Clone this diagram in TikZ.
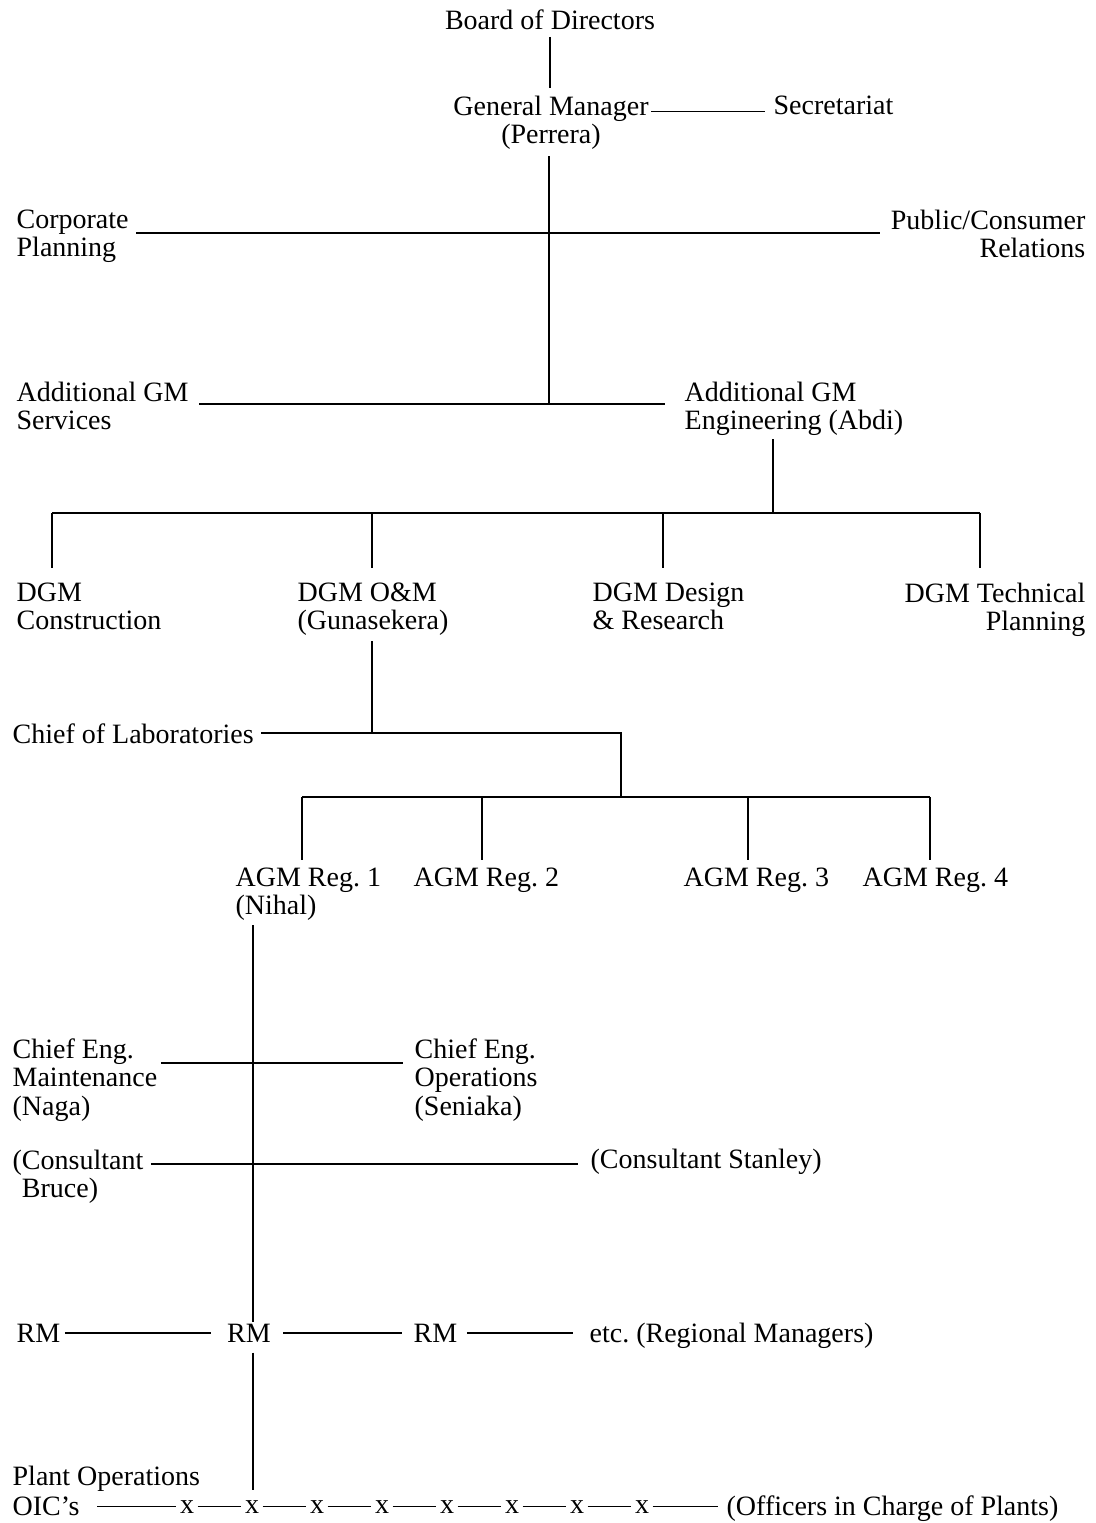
\documentclass[tikz,border=0pt]{standalone}
\usepackage{fontspec}
\setmainfont{Liberation Serif}
\usetikzlibrary{calc}
\newcommand{\orgfont}{\fontsize{28}{28.5}\selectfont\frenchspacing}

\begin{document}
\begin{tikzpicture}[x=1pt, y=-1pt, line width=1.3pt,
  lbl/.style={inner sep=0pt, font=\orgfont},
  lblL/.style={lbl, align=left, anchor=north west},
  lblR/.style={lbl, align=right, anchor=north east},
  xmark/.style={lbl, inner xsep=3pt, anchor=base}]

\useasboundingbox (0,0) rectangle (1095,1523);

% ----------------------------
% PARAMETERS
% ----------------------------
\def\xGM{549}     % spine under General Manager
\def\xEng{773}    % spine under Additional GM Engineering
\def\xRM{253}     % spine under AGM Reg. 1

% ----------------------------
% TOP LEVEL
% ----------------------------
\node[lbl, anchor=base] (bod) at (550,29) {Board of Directors};
\node[lbl, align=center, anchor=north] (gm) at (551,95) {General Manager\\(Perrera)};
\node[lbl, anchor=base west] (sec) at (773,114) {Secretariat};

\node[lblL] (cp) at (16,209) {Corporate\\Planning};
\node[lblR] (pcr) at (1086,209) {Public/Consumer\\Relations};

\node[lblL] (ags) at (16,381) {Additional GM\\Services};
\node[lblL] (age) at (684,381) {Additional GM\\Engineering (Abdi)};

\coordinate (jCP) at (\xGM,233);   % planning line crossing
\coordinate (jAG) at (\xGM,404);   % foot of GM spine

\draw[shorten <=7pt, shorten >=7pt] (bod.south) -- (bod.south |- gm.north);
\draw ([xshift=2pt]gm.north east |- sec.mid west) -- ([xshift=-8pt]sec.mid west);
\draw[shorten <=6pt] (gm.south -| jAG) -- (jAG);
\draw ([xshift=7pt]cp.north east |- jCP) -- ([xshift=-10pt]pcr.north west |- jCP);
\draw ([xshift=10pt]ags.north east |- jAG) -- ([xshift=-19pt]age.north west |- jAG);

% ----------------------------
% DEPUTY GENERAL MANAGERS
% ----------------------------
\node[lblL] (dgmc) at (16,582) {DGM\\Construction};
\node[lblL] (dgmo) at (297,582) {DGM O\&M\\(Gunasekera)};
\node[lblL] (dgmd) at (592,582) {DGM Design\\\& Research};
\node[lblR] (dgmt) at (1086,582) {DGM Technical\\Planning};

\coordinate (jEng) at (\xEng,513);
\coordinate (dC) at (52,513);
\coordinate (dO) at (372,513);
\coordinate (dD) at (663,513);
\coordinate (dT) at (980,513);

\draw[shorten <=3pt] (age.south -| jEng) -- (jEng);
\draw (dC) -- (dT);
\foreach \d in {dC,dO,dD,dT}
  \draw[shorten >=14pt] (\d) -- (\d |- dgmc.north);

% ----------------------------
% LABORATORIES AND REGIONS
% ----------------------------
\node[lbl, anchor=base west] (col) at (12,743) {Chief of Laboratories};

\coordinate (jCol) at (372,733);
\coordinate (jReg) at (621,733);
\coordinate (jRegBar) at (621,797);
\coordinate (r1) at (302,797);
\coordinate (r2) at (482,797);
\coordinate (r3) at (748,797);
\coordinate (r4) at (930,797);

\node[lblL] (agm1) at (235,867) {AGM Reg. 1\\(Nihal)};
\node[lbl, anchor=base west] (agm2) at (413,886) {AGM Reg. 2};
\node[lbl, anchor=base west] (agm3) at (683,886) {AGM Reg. 3};
\node[lbl, anchor=base west] (agm4) at (862,886) {AGM Reg. 4};

\draw[shorten <=5pt] (dgmo.south -| jCol) -- (jCol);
\draw ([xshift=7pt]col.east |- jCol) -- (jReg) -- (jRegBar);
\draw (r1) -- (r4);
\foreach \r in {r1,r2,r3,r4}
  \draw[shorten >=7pt] (\r) -- (\r |- agm2.north);

% ----------------------------
% REGION 1
% ----------------------------
\node[lblL] (cem) at (12,1038) {Chief Eng.\\Maintenance\\(Naga)};
\node[lblL] (ceo) at (414,1038) {Chief Eng.\\Operations\\(Seniaka)};
\node[lblL] (cb) at (12,1149) {(Consultant\\\hphantom{(}Bruce)};
\node[lbl, anchor=base west] (cs) at (590,1168) {(Consultant Stanley)};

\coordinate (jCE) at (\xRM,1063);
\coordinate (jCB) at (\xRM,1164);

\draw ([xshift=3pt]cem.north east |- jCE) -- ([xshift=-11pt]ceo.north west |- jCE);
\draw ([xshift=7pt]cb.north east |- jCB) -- ([xshift=-12pt]cs.west |- jCB);

% regional managers
\node[lbl, anchor=base west] (rm1) at (16,1342) {RM};
\node[lbl, anchor=base] (rm2) at (249,1342) {RM};
\node[lbl, anchor=base west] (rm3) at (413,1342) {RM};
\node[lbl, anchor=base west] (etc) at (589,1342) {etc. (Regional Managers)};

\draw[shorten <=4pt, shorten >=1pt] (agm1.south -| jCE) -- (rm2.north -| jCE);
\draw ([xshift=4pt]rm1.east) -- ([xshift=-16pt]rm2.west);
\draw ([xshift=12pt]rm2.east) -- ([xshift=-11pt]rm3.west);
\draw ([xshift=9pt]rm3.east) -- ([xshift=-16pt]etc.west |- rm3.east);

% ----------------------------
% PLANT OPERATIONS
% ----------------------------
\node[lbl, anchor=base west] (po) at (12,1485) {Plant Operations};
\node[lbl, anchor=base west] (oic) at (12,1515) {OIC's};
\node[lbl, anchor=base west] (oicp) at (726,1515) {(Officers in Charge of Plants)};

\foreach \i in {1,...,8}
  \node[xmark] (x\i) at ({187+65*(\i-1)},1513) {x};
\foreach \i [count=\j from 2] in {1,...,7}
  \draw (x\i) -- (x\j);

\draw ([xshift=17pt]oic.east |- x1.west) -- (x1.west);
\draw (x8.east) -- ([xshift=-8pt]oicp.west |- x8.east);
\draw[shorten <=10pt, shorten >=10pt] (rm2.south -| jCE) -- (x2.north -| jCE);

\end{tikzpicture}
\end{document}
